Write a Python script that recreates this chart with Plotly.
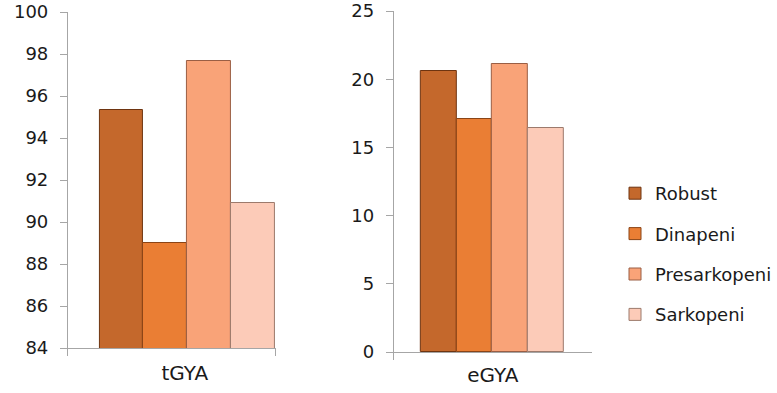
import plotly.graph_objects as go

groups = ["Robust", "Dinapeni", "Presarkopeni", "Sarkopeni"]
colors = ["#C4682C", "#EA7E34", "#F9A378", "#FCCBB8"]
edge_colors = ["#6E3410", "#8A4416", "#9A5E44", "#9C7A6C"]

tgya_label = ["tGYA"]
tgya_values = [95.35, 89.0, 97.68, 90.9]

egya_label = ["eGYA"]
egya_values = [20.58, 17.08, 21.11, 16.45]

W, H = 777, 393
FONT = "DejaVu Sans"
AXC = "#A6A6A6"
TXT = "#1A1A1A"

# bar geometry (axis units, category spans -0.5..0.5)
left_w = 0.2107
left_start = -0.3476
right_w = 0.18125
right_start = -0.365

fig = go.Figure()
for i, g in enumerate(groups):
    fig.add_trace(go.Bar(
        x=tgya_label, y=[tgya_values[i]], name=g,
        marker=dict(color=colors[i], line=dict(color=edge_colors[i], width=1)),
        width=left_w, offset=left_start + i * left_w,
        xaxis="x", yaxis="y", legendgroup=g, showlegend=True,
    ))
for i, g in enumerate(groups):
    fig.add_trace(go.Bar(
        x=egya_label, y=[egya_values[i]], name=g,
        marker=dict(color=colors[i], line=dict(color=edge_colors[i], width=1)),
        width=right_w, offset=right_start + i * right_w,
        xaxis="x2", yaxis="y2", legendgroup=g, showlegend=False,
    ))

axis_common = dict(showline=True, linecolor=AXC, linewidth=1, showgrid=False,
                   zeroline=False, automargin=False)
ytick_font = dict(family=FONT, size=18, color=TXT)
xtick_font = dict(family=FONT, size=20, color=TXT)

fig.update_layout(
    width=W, height=H,
    margin=dict(l=0, r=0, t=0, b=0),
    paper_bgcolor="white", plot_bgcolor="white",
    barmode="group", bargap=0, bargroupgap=0,
    font=dict(family=FONT, color=TXT),
    xaxis=dict(domain=[69 / W, 280 / W], anchor="y", type="category",
               range=[-0.5, 0.5], tickson="boundaries", ticks="outside",
               ticklen=7, tickcolor=AXC, ticklabelshift=13, ticklabelstandoff=7,
               tickfont=xtick_font, **axis_common),
    yaxis=dict(domain=[1 - 348 / H, 1 - 12 / H], anchor="x",
               range=[84, 100], dtick=2, ticks="outside", ticklen=7,
               tickcolor=AXC, ticklabelstandoff=8, tickfont=ytick_font,
               **axis_common),
    xaxis2=dict(domain=[400 / W, 601 / W], anchor="y2", type="category",
                range=[-0.5, 0.5], tickson="boundaries", ticks="outside",
                ticklen=7, tickcolor=AXC, ticklabelstandoff=5,
                tickfont=xtick_font, **axis_common),
    yaxis2=dict(domain=[1 - 352 / H, 1 - 11 / H], anchor="x2",
                range=[0, 25], dtick=5, ticks="outside", ticklen=7,
                tickcolor=AXC, ticklabelstandoff=8, tickfont=ytick_font,
                **axis_common),
    legend=dict(x=625 / W, y=1 - 175 / H, xanchor="left", yanchor="top",
                font=dict(family=FONT, size=18, color=TXT),
                tracegroupgap=14, bgcolor="rgba(0,0,0,0)"),
)

fig.write_html("out.html")
